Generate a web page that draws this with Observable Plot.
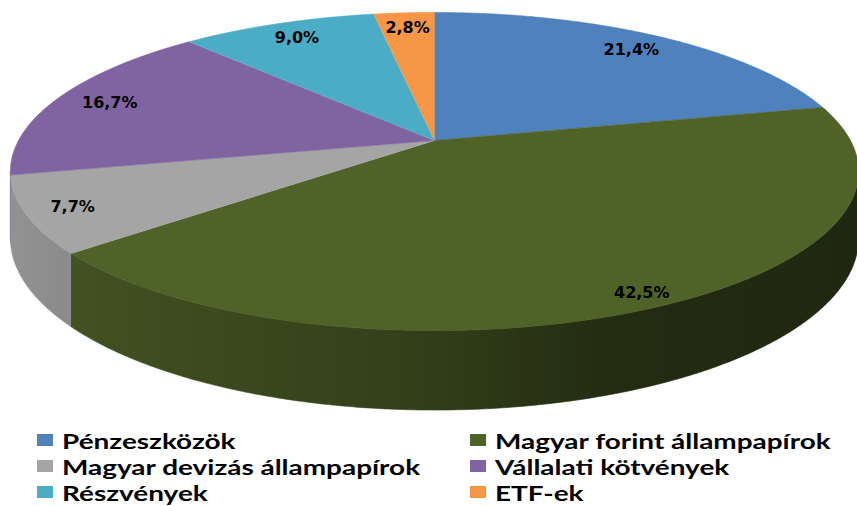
<!DOCTYPE html>
<html><head><meta charset="utf-8">
<script src="https://cdn.jsdelivr.net/npm/d3@7"></script>
<script src="https://cdn.jsdelivr.net/npm/@observablehq/plot@0.6"></script>
<style>
body{margin:0;background:#fff;}
#wrap{position:relative;width:857px;height:506px;overflow:hidden;background:#fff}
#legend{position:absolute;left:0;top:427px;width:857px;font-family:Lato,"Open Sans",sans-serif;font-weight:700;font-size:21px;color:#000}
.item{position:absolute;display:flex;align-items:center;height:26px;white-space:nowrap}
.sw{width:16px;height:12px;margin-right:9px;flex:none}
.tx{display:inline-block;transform:scaleX(1.33);transform-origin:0 50%}
</style></head><body><div id="wrap"><div id="chart"></div><div id="legend"></div></div>
<script>
// ---- data ----
const categories = ["Pénzeszközök","Magyar forint állampapírok","Magyar devizás állampapírok","Vállalati kötvények","Részvények","ETF-ek"];
const shares = [21.4, 42.5, 7.7, 16.7, 9.0, 2.8];
const labels = ["21,4%","42,5%","7,7%","16,7%","9,0%","2,8%"];
const colors = ["#4f81bd","#4f6228","#a5a5a5","#8064a2","#4bacc6","#f79646"];

// ---- 3D perspective geometry ----
const W = 857, H = 420;
const G = {cx: 434, cy: 140, B: 416, A: 153, p: 0.195, D: 64};
function proj(theta, r = 1, drop = 0) {
  const X = r * Math.sin(theta), Z = r * Math.cos(theta);
  const w = 1 + G.p * Z;
  return [G.cx + G.B * X / w, G.cy - G.A * Z / w + drop / w];
}
const total = d3.sum(shares);
let acc = 0;
const slices = shares.map((v, i) => {
  const a0 = acc / total * 2 * Math.PI; acc += v;
  const a1 = acc / total * 2 * Math.PI;
  return {i, a0, a1};
});
function arc(a0, a1) {
  const n = Math.max(2, Math.ceil((a1 - a0) / (0.4 * Math.PI / 180)));
  return d3.range(n + 1).map(k => a0 + (a1 - a0) * k / n);
}
const topPts = [], wallPts = [];
const visL = Math.acos(-G.p), visR = 2 * Math.PI - Math.acos(-G.p);
slices.forEach(s => {
  const c = proj(0, 0);
  topPts.push({id: s.i, x: c[0], y: c[1], fill: colors[s.i]});
  arc(s.a0, s.a1).forEach(t => { const [x, y] = proj(t); topPts.push({id: s.i, x, y, fill: colors[s.i]}); });
  const b0 = Math.max(s.a0, visL), b1 = Math.min(s.a1, visR);
  if (b1 > b0) {
    const ts = arc(b0, b1);
    ts.forEach(t => { const [x, y] = proj(t); wallPts.push({id: s.i, x, y, fill: `url(#wall${s.i})`}); });
    ts.slice().reverse().forEach(t => { const [x, y] = proj(t, 1, G.D); wallPts.push({id: s.i, x, y, fill: `url(#wall${s.i})`}); });
  }
});
const labelData = slices.map(s => {
  const m = (s.a0 + s.a1) / 2;
  const f = 0.86 + 0.08 * Math.max(0, -Math.cos(m));
  const [x, y] = proj(m, f);
  return {x, y, text: labels[s.i]};
});

// gradient defs for the shaded side walls
const defsMark = () => {
  const defs = d3.create("svg:defs");
  colors.forEach((c, i) => {
    const g = defs.append("linearGradient").attr("id", `wall${i}`)
      .attr("gradientUnits", "userSpaceOnUse").attr("x1", 0).attr("x2", W).attr("y1", 0).attr("y2", 0);
    [[0, 0.3], [0.1, 0.55], [0.5, 1.3], [0.7, 2.2], [1, 2.6]].forEach(([o, k]) =>
      g.append("stop").attr("offset", o).attr("stop-color", d3.color(c).darker(k).formatHex()));
  });
  return defs.node();
};

const chart = Plot.plot({
  width: W, height: H, margin: 0,
  x: {domain: [0, W], range: [0, W], axis: null},
  y: {domain: [0, H], range: [0, H], axis: null},
  color: {type: "identity"},
  style: {background: "#fff", overflow: "hidden"},
  marks: [
    defsMark,
    Plot.line(wallPts, {x: "x", y: "y", z: "id", fill: "fill", stroke: "fill", strokeWidth: 0.6}),
    Plot.line(topPts, {x: "x", y: "y", z: "id", fill: "fill", stroke: "fill", strokeWidth: 0.6}),
    Plot.text(labelData, {x: "x", y: "y", text: "text", fill: "#000", fontSize: 16, fontWeight: "bold", fontFamily: "DejaVu Sans, Verdana, sans-serif"})
  ]
});
document.getElementById("chart").appendChild(chart);

// legend (HTML, below the svg)
const leg = document.getElementById("legend");
categories.forEach((name, i) => {
  const it = document.createElement("div");
  it.className = "item";
  it.style.left = (i % 2 === 0 ? 37 : 470) + "px";
  it.style.top = (Math.floor(i / 2) * 26) + "px";
  const sw = document.createElement("span"); sw.className = "sw"; sw.style.background = colors[i];
  const tx = document.createElement("span"); tx.className = "tx"; tx.textContent = name;
  it.appendChild(sw); it.appendChild(tx); leg.appendChild(it);
});
</script></body></html>
